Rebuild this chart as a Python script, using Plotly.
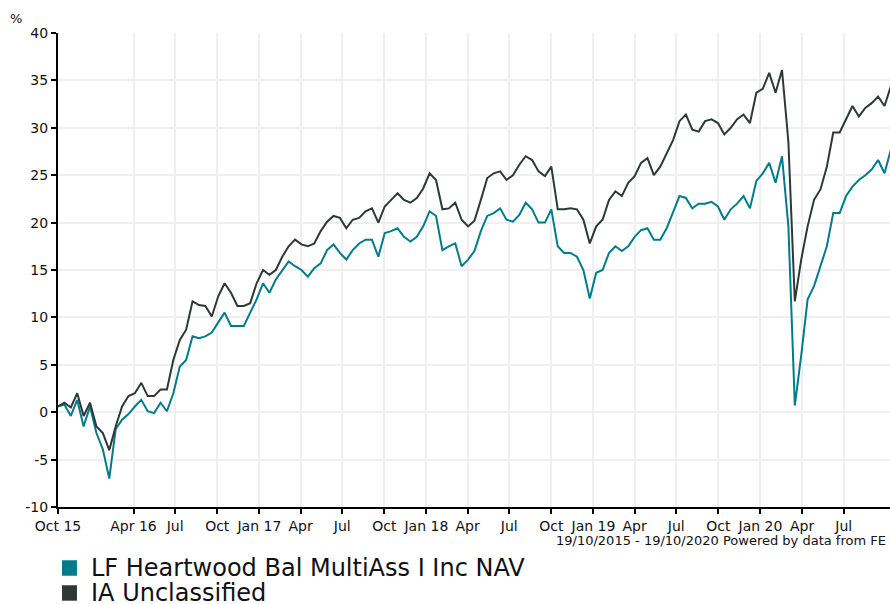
import pandas as pd
import plotly.graph_objects as go

# sampling grid (every 14 days from the start of the period)
dates = pd.date_range("2015-10-19", periods=131, freq="14D")

ia_unclassified = [
    0.6, 1.0, 0.5, 2.0, -0.4, 1.0, -1.5, -2.2, -4.0, -1.5,
    0.6, 1.7, 2.0, 3.1, 1.7, 1.7, 2.4, 2.4, 5.5, 7.6,
    8.7, 11.7, 11.3, 11.2, 10.1, 12.2, 13.6, 12.6, 11.2, 11.2,
    11.5, 13.6, 15.0, 14.5, 15.0, 16.4, 17.5, 18.2, 17.7, 17.5,
    17.8, 19.1, 20.1, 20.7, 20.5, 19.4, 20.3, 20.5, 21.2, 21.5,
    20.0, 21.7, 22.4, 23.1, 22.4, 22.1, 22.6, 23.6, 25.2, 24.5,
    21.4, 21.5, 22.1, 20.3, 19.6, 20.2, 22.4, 24.7, 25.2, 25.4,
    24.5, 25.0, 26.1, 27.0, 26.6, 25.4, 24.9, 25.9, 21.4, 21.4,
    21.5, 21.4, 20.3, 17.8, 19.6, 20.3, 22.4, 23.3, 22.8, 24.2,
    24.9, 26.3, 26.8, 25.0, 25.9, 27.3, 28.7, 30.7, 31.4, 29.8,
    29.6, 30.7, 30.9, 30.5, 29.3, 30.0, 30.9, 31.4, 30.5, 33.7,
    34.1, 35.8, 33.7, 36.1, 28.5, 11.7, 16.1, 19.6, 22.4, 23.5,
    25.9, 29.5, 29.5, 30.9, 32.3, 31.2, 32.1, 32.6, 33.3, 32.3,
    34.4,
]

lf_heartwood = [
    0.6, 0.8, -0.4, 1.3, -1.5, 0.6, -2.2, -3.9, -7.0, -1.8,
    -0.8, -0.2, 0.6, 1.3, 0.1, -0.1, 1.0, 0.1, 2.0, 4.8,
    5.5, 8.0, 7.8, 8.0, 8.4, 9.4, 10.5, 9.1, 9.1, 9.1,
    10.5, 11.9, 13.6, 12.6, 14.0, 15.0, 15.9, 15.4, 15.0, 14.3,
    15.2, 15.7, 17.1, 17.7, 16.8, 16.1, 17.1, 17.8, 18.2, 18.2,
    16.4, 18.9, 19.1, 19.4, 18.5, 18.0, 18.5, 19.6, 21.2, 20.7,
    17.1, 17.5, 17.8, 15.4, 16.1, 17.0, 19.1, 20.7, 21.0, 21.5,
    20.3, 20.1, 20.8, 22.1, 21.4, 20.0, 20.0, 21.4, 17.5, 16.8,
    16.8, 16.4, 15.0, 12.0, 14.7, 15.0, 16.8, 17.5, 17.0, 17.5,
    18.5, 19.2, 19.4, 18.2, 18.2, 19.4, 21.0, 22.8, 22.6, 21.5,
    22.0, 22.0, 22.2, 21.7, 20.3, 21.4, 22.0, 22.8, 21.5, 24.4,
    25.2, 26.3, 24.2, 27.0, 19.6, 0.7, 6.0, 11.9, 13.3, 15.4,
    17.5, 21.0, 21.0, 22.8, 23.8, 24.5, 25.0, 25.6, 26.6, 25.2,
    27.7,
]

series_names = ["LF Heartwood Bal MultiAss I Inc NAV", "IA Unclassified"]
series_colors = ["#007b8a", "#2e3834"]

x_tick_dates = [
    "2015-10-19", "2016-04-01", "2016-07-01", "2016-10-01", "2017-01-01",
    "2017-04-01", "2017-07-01", "2017-10-01", "2018-01-01", "2018-04-01",
    "2018-07-01", "2018-10-01", "2019-01-01", "2019-04-01", "2019-07-01",
    "2019-10-01", "2020-01-01", "2020-04-01", "2020-07-01",
]
x_tick_labels = [
    "Oct 15", "Apr 16", "Jul", "Oct", "Jan 17", "Apr", "Jul", "Oct", "Jan 18",
    "Apr", "Jul", "Oct", "Jan 19", "Apr", "Jul", "Oct", "Jan 20", "Apr", "Jul",
]
y_tick_vals = [-10, -5, 0, 5, 10, 15, 20, 25, 30, 35, 40]
y_tick_labels = ["-10", "-5", "0", "5", "10", "15", "20", "25", "30", "35", "40"]

footer = "19/10/2015 - 19/10/2020 Powered by data from FE"

FONT = "DejaVu Sans"
TXT = "#111111"

fig = go.Figure()
for name, vals, col in zip(series_names, [lf_heartwood, ia_unclassified], series_colors):
    fig.add_trace(go.Scatter(x=dates, y=vals, mode="lines", name=name,
                             line=dict(color=col, width=2), showlegend=False,
                             hoverinfo="skip"))

# legend drawn as square swatches + text labels below the plot
legend_y_centers = [-0.1287, -0.1814]
shapes = []
annotations = []
for name, col, yc in zip(series_names, series_colors, legend_y_centers):
    shapes.append(dict(type="rect", xref="paper", yref="paper",
                       x0=0.0048, x1=0.0228, y0=yc - 0.0163, y1=yc + 0.0163,
                       fillcolor=col, line=dict(width=0)))
    annotations.append(dict(text=name, xref="paper", yref="paper", x=0.0373, y=yc,
                            xanchor="left", yanchor="middle", showarrow=False,
                            font=dict(size=24, family=FONT, color=TXT)))

annotations += [
    dict(text="%", xref="paper", yref="paper", x=-0.0505, y=1.0316,
         showarrow=False, font=dict(size=13, family=FONT, color=TXT),
         xanchor="center", yanchor="middle"),
    dict(text=footer, xref="paper", yref="paper", x=1, y=-0.0706,
         xanchor="right", yanchor="middle", xshift=-2, showarrow=False,
         font=dict(size=13, family=FONT, color=TXT)),
]

fig.update_layout(
    width=890, height=604,
    margin=dict(l=58, r=0, t=33, b=97),
    paper_bgcolor="white", plot_bgcolor="white",
    font=dict(family=FONT, color=TXT, size=14),
    showlegend=False,
    xaxis=dict(range=["2015-10-19", "2020-10-10"], tickmode="array",
               tickvals=x_tick_dates, ticktext=x_tick_labels,
               showgrid=True, gridcolor="#efefef", gridwidth=2,
               showline=True, linecolor="black", linewidth=2,
               ticks="outside", ticklen=5, tickwidth=2, tickcolor="black",
               tickfont=dict(size=14, color=TXT), zeroline=False),
    yaxis=dict(range=[-10, 40], tickmode="array", tickvals=y_tick_vals,
               ticktext=y_tick_labels,
               showgrid=True, gridcolor="#efefef", gridwidth=2,
               showline=True, linecolor="black", linewidth=2,
               ticks="outside", ticklen=5, tickwidth=2, tickcolor="black",
               tickfont=dict(size=14, color=TXT), zeroline=False),
    shapes=shapes,
    annotations=annotations,
)

fig.write_html("out.html", config={"displayModeBar": False},
               post_script="document.body.style.margin='0';document.body.style.overflow='hidden';")
